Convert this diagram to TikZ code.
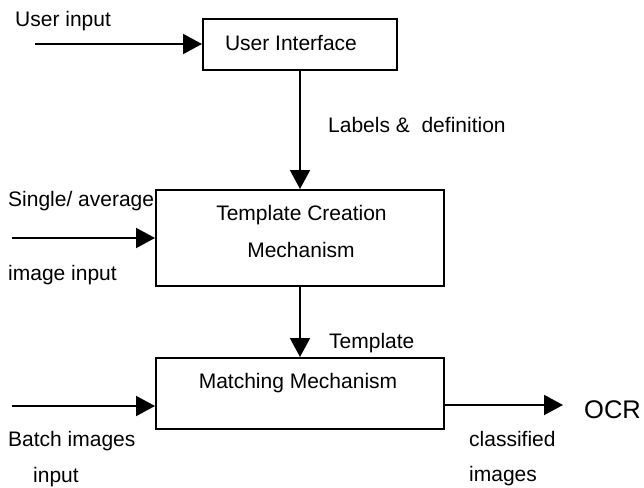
\documentclass[tikz,border=0pt]{standalone}
\usepackage{fontspec}
\setmainfont{Liberation Sans}
\usetikzlibrary{arrows.meta}
\begin{document}
\begin{tikzpicture}[x=1pt,y=-1pt,
  every node/.style={font=\fontsize{21}{25}\selectfont},
  blockbox/.style={draw,line width=2pt,inner sep=0pt},
  txt/.style={anchor=base west,inner sep=0pt},
  ctxt/.style={anchor=base,inner sep=0pt},
  flow/.style={line width=2pt,-{Triangle[length=19pt,width=20pt]}}]
\useasboundingbox (0,0) rectangle (644,487);

% blocks
\node[blockbox,minimum width=194pt,minimum height=51pt] (ui) at (300,44.5) {};
\node[blockbox,minimum width=288pt,minimum height=96pt] (tc) at (300,238) {};
\node[blockbox,minimum width=288pt,minimum height=71pt] (mm) at (300,393.5) {};

% block texts
\node[ctxt] (uit) at (291,50) {User Interface};
\node[ctxt] (tct1) at (301.5,220) {Template Creation};
\node[ctxt] (tct2) at (301,257) {Mechanism};
\node[ctxt] (mmt) at (298,388) {Matching Mechanism};

% free ends of the input and output lines
\coordinate (in1) at (35,44);
\coordinate (in2) at (12,238);
\coordinate (in3) at (12,406);
\coordinate (outend) at (563,405);

% connectors
\draw[flow] (in1) -- (in1 -| ui.west);
\draw[flow] (ui.south) -- (tc.north);
\draw[flow] (in2) -- (in2 -| tc.west);
\draw[flow] (tc.south) -- (mm.north);
\draw[flow] (in3) -- (in3 -| mm.west);
\draw[flow] (outend -| mm.east) -- (outend);

% labels
\node[txt] (l1) at (15,27) {User input};
\node[txt] (l2) at (328,132) {Labels \&\ \ definition};
\node[txt] (l3) at (8,206) {Single/ average};
\node[txt] (l4) at (8,280) {image input};
\node[txt] (l5) at (329,348) {Template};
\node[txt] (l6) at (8,446) {Batch images};
\node[txt] (l7) at (33,482) {input};
\node[txt] (l8) at (469,446) {classified};
\node[txt] (l9) at (469,481) {images};
\node[txt,font=\fontsize{25.5}{30}\selectfont] (ocr) at (584,418) {OCR};
\end{tikzpicture}
\end{document}
